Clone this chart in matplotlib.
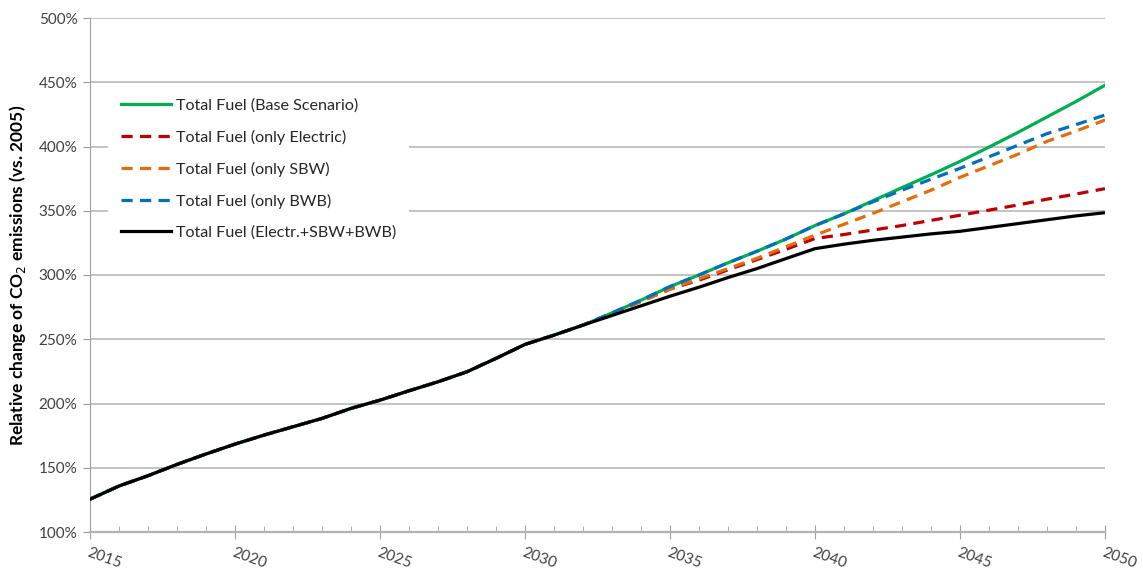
import matplotlib
matplotlib.use("Agg")
import matplotlib.pyplot as plt
from matplotlib.ticker import MultipleLocator, FuncFormatter

plt.rcParams['font.family'] = ['Lato', 'DejaVu Sans']

years = list(range(2015, 2051))

# shared path 2015-2032 (all scenarios identical)
common = [125.5, 135.8, 143.8, 152.6, 160.7, 168.4, 175.4, 181.9, 188.4, 196.2,
          202.6, 209.9, 216.9, 224.7, 235.1, 246.0, 253.2, 261.0]

base = common + [270.5, 280.4, 291, 300, 309.5, 318.5, 328, 338.5,
                 347.6, 357.8, 368, 378, 388.4, 399.5, 411, 423, 435, 447.7]
only_electric = common + [270, 279.5, 289, 296, 304, 312, 320, 328.4,
                          331.5, 335, 338.5, 342.5, 346.5, 350.5, 354.5, 359, 363, 367.2]
only_sbw = common + [270, 279.5, 289, 297, 305, 313, 322, 331,
                     339.5, 348, 357, 366, 376, 385, 394, 404, 412, 420.6]
only_bwb = common + [270.5, 280.4, 291, 300, 309.5, 318.5, 328, 338.5,
                     347.6, 357, 366, 374.5, 383, 392, 401, 410, 417, 424.5]
combined = common + [268.5, 276, 283.5, 290.5, 298, 305, 312.8, 320.5,
                     324, 327, 329.5, 332, 334, 337, 340, 343, 346, 348.5]

labels = ["Total Fuel (Base Scenario)", "Total Fuel (only Electric)",
          "Total Fuel (only SBW)", "Total Fuel (only BWB)",
          "Total Fuel (Electr.+SBW+BWB)"]

fig = plt.figure(figsize=(11.43, 5.71), dpi=100)
ax = fig.add_axes([90 / 1143, 39 / 571, 1015 / 1143, 514 / 571])

lw = 2.3
dash = (3.5, 2.3)
l_base, = ax.plot(years, base, color='#00B050', lw=lw, zorder=3)
l_el, = ax.plot(years, only_electric, color='#C00000', lw=lw, dashes=dash, zorder=3)
l_sbw, = ax.plot(years, only_sbw, color='#E46C0A', lw=lw, dashes=dash, zorder=3)
l_bwb, = ax.plot(years, only_bwb, color='#0070C0', lw=lw, dashes=dash, zorder=3)
l_comb, = ax.plot(years, combined, color='black', lw=lw, zorder=4)

ax.set_xlim(2015, 2050)
ax.set_ylim(100, 500)

ax.yaxis.set_major_locator(MultipleLocator(50))
ax.yaxis.set_major_formatter(FuncFormatter(lambda v, p: f"{v:.0f}%"))
ax.xaxis.set_major_locator(MultipleLocator(5))
ax.xaxis.set_minor_locator(MultipleLocator(1))

ax.grid(axis='y', color='#B3B3B3', lw=1.1, zorder=0)
ax.set_axisbelow(True)

for s in ['top', 'right']:
    ax.spines[s].set_visible(False)
ax.spines['left'].set_color('#A0A0A0')
ax.spines['bottom'].set_color('#B3B3B3')
ax.spines['bottom'].set_linewidth(1.6)

ax.tick_params(axis='y', direction='out', length=5, color='#A0A0A0',
               labelsize=11, labelcolor='#404040', pad=4)
ax.tick_params(axis='x', which='major', direction='inout', length=10,
               color='#A0A0A0', labelsize=11, labelcolor='#404040', pad=5)
ax.tick_params(axis='x', which='minor', direction='in', length=4, color='#A0A0A0')

for t in ax.get_xticklabels():
    t.set_rotation(-20)
    t.set_ha('left')
    t.set_va('top')
    t.set_rotation_mode('anchor')

ax.set_ylabel("Relative change of CO$_2$ emissions (vs. 2005)",
              fontsize=12.5, fontweight='bold', labelpad=8)

leg = ax.legend([l_base, l_el, l_sbw, l_bwb, l_comb], labels,
                loc='upper left', bbox_to_anchor=(0.018, 0.868),
                frameon=True, fancybox=False, framealpha=1, edgecolor='white',
                fontsize=11.6, handlelength=3.1, handletextpad=0.3,
                labelspacing=1.04, borderpad=0.8, borderaxespad=0)
leg.get_frame().set_linewidth(0)
for t in leg.get_texts():
    t.set_color('#262626')

fig.savefig("out.png", dpi=100)
